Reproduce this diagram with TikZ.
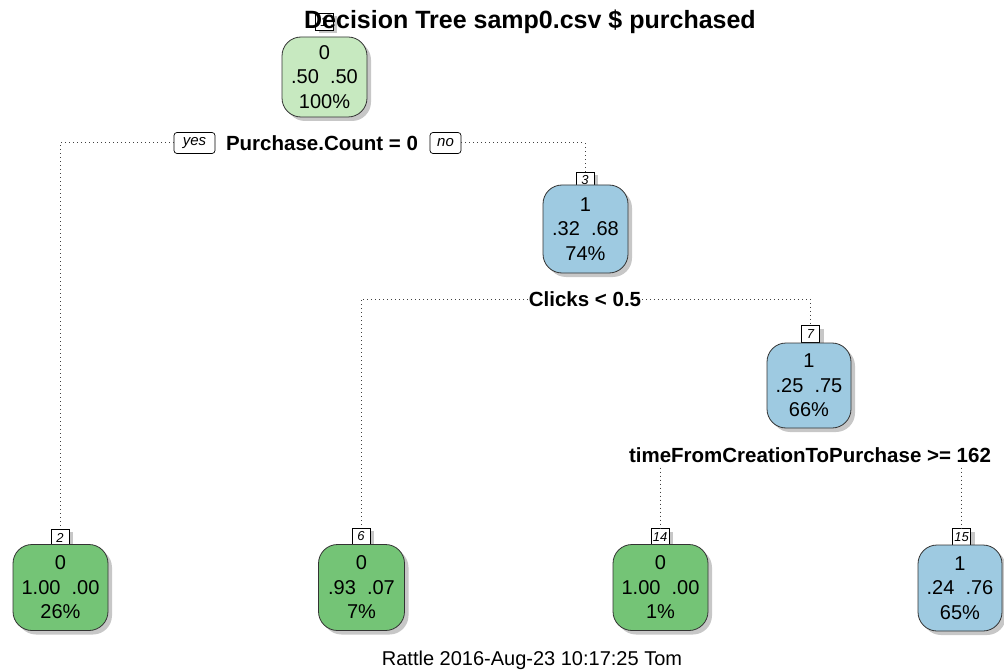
\documentclass[tikz,border=0pt]{standalone}
\usepackage{fontspec}
\setmainfont{Liberation Sans}
\usetikzlibrary{shadows}
\definecolor{palegreen}{HTML}{C7E9C0}
\definecolor{leafgreen}{HTML}{74C476}
\definecolor{leafblue}{HTML}{9ECAE1}
\definecolor{edgegray}{HTML}{333333}
\tikzset{
  treebox/.style={draw=edgegray, line width=0.8pt, rounded corners=19pt,
    minimum height=86pt, align=center, inner sep=0pt,
    font=\fontsize{20}{24.5}\selectfont,
    drop shadow={shadow xshift=4pt, shadow yshift=-4pt, fill=black, opacity=0.22}},
  numbox/.style={draw=black, line width=0.7pt, fill=white, minimum width=18pt,
    minimum height=17pt, inner sep=0pt, font=\fontsize{13}{14}\selectfont\itshape,
    drop shadow={shadow xshift=4pt, shadow yshift=-3pt, fill=black, opacity=0.22}},
  splittext/.style={font=\fontsize{20.5}{22}\selectfont\bfseries, inner sep=1pt},
  branchtag/.style={draw=black, line width=0.7pt, rounded corners=3pt, fill=white,
    minimum height=21pt, inner sep=0pt, font=\fontsize{15}{16}\selectfont\itshape},
  conn/.style={draw=black!75, line width=1pt, dash pattern=on 1pt off 3pt},
}
\begin{document}
\begin{tikzpicture}[x=1pt, y=-1pt]
  \useasboundingbox (0,0) rectangle (1004,671);
  \fill[white] (0,0) rectangle (1004,671);

  % root node; its number tag is hidden under the title
  \node[numbox] (l1) at (324,22) {1};
  \node[font=\fontsize{25}{28}\selectfont\bfseries] (title) at (530,22)
    {Decision Tree samp0.csv \$ purchased};
  \node[treebox, fill=palegreen, minimum width=85pt, minimum height=80pt] (n1) at (324.5,77)
    {0\\.50\ \ .50\\100\%};

  % first split
  \node[splittext] (s1) at (322,143) {Purchase.Count = 0};
  \node[branchtag, minimum width=41pt] (yes) at (194.5,143) {\raisebox{-1pt}{yes}};
  \node[branchtag, minimum width=31pt] (no) at (445.5,143) {\raisebox{-1pt}{no}};

  % node 2 (leaf)
  \node[numbox] (l2) at (60,537.5) {2};
  \node[treebox, fill=leafgreen, minimum width=95pt] (n2) at (60.5,587.5)
    {0\\1.00\ \ .00\\26\%};

  % node 3
  \node[numbox] (l3) at (585,180.5) {3};
  \node[treebox, fill=leafblue, minimum width=85pt, minimum height=88pt] (n3) at (585.5,229)
    {1\\.32\ \ .68\\74\%};
  \node[splittext] (s3) at (585,299) {Clicks < 0.5};

  % node 6 (leaf)
  \node[numbox] (l6) at (361,536.5) {6};
  \node[treebox, fill=leafgreen, minimum width=86pt] (n6) at (361.5,587.5)
    {0\\.93\ \ .07\\7\%};

  % node 7
  \node[numbox] (l7) at (810.5,334) {7};
  \node[treebox, fill=leafblue, minimum width=84pt, minimum height=85pt] (n7) at (809,385.5)
    {1\\.25\ \ .75\\66\%};
  \node[splittext] (s7) at (810,455) {timeFromCreationToPurchase >= 162};

  % node 14 (leaf)
  \node[numbox] (l14) at (660,537) {14};
  \node[treebox, fill=leafgreen, minimum width=95pt] (n14) at (660.5,587.5)
    {0\\1.00\ \ .00\\1\%};

  % node 15 (leaf)
  \node[numbox] (l15) at (961.5,537) {15};
  \node[treebox, fill=leafblue, minimum width=84pt] (n15) at (960,588)
    {1\\.24\ \ .76\\65\%};

  % connectors
  \draw[conn] (yes.west) -| (l2.north);
  \draw[conn] (no.east) -| (l3.north);
  \draw[conn] (s3.west) -| (l6.north);
  \draw[conn] (s3.east) -| (l7.north);
  \draw[conn] (l14.north |- s7.south) ++(0,4) -- (l14.north);
  \draw[conn] (l15.north |- s7.south) ++(0,4) -- (l15.north);

  % footer
  \node[font=\fontsize{20}{22}\selectfont] (footer) at (532,660)
    {Rattle 2016-Aug-23 10:17:25 Tom};
\end{tikzpicture}
\end{document}
